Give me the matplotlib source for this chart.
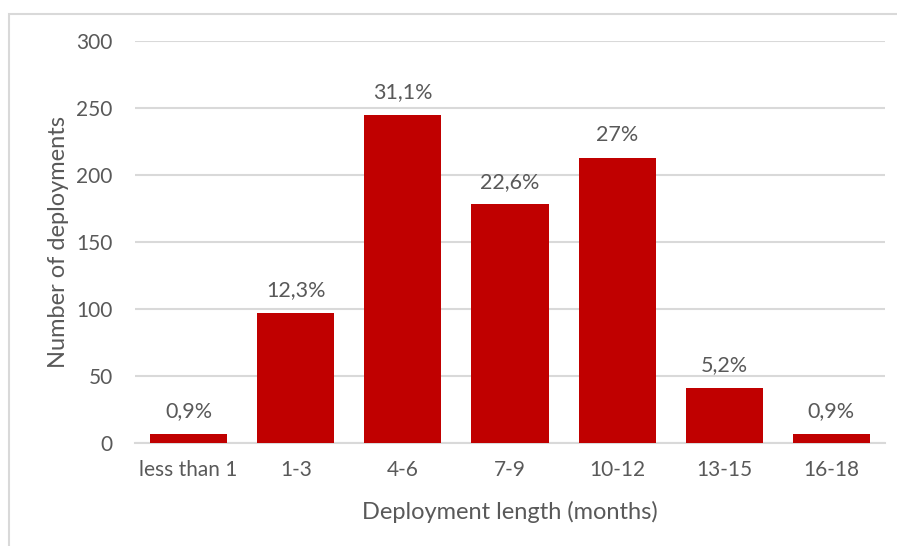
import matplotlib.pyplot as plt
from matplotlib.patches import Rectangle

categories = ['less than 1', '1-3', '4-6', '7-9', '10-12', '13-15', '16-18']
deployments = [7, 97, 245, 178, 213, 41, 7]
pct_labels = ['0,9%', '12,3%', '31,1%', '22,6%', '27%', '5,2%', '0,9%']

TEXT = '#595959'
GRID = '#d9d9d9'
RED = '#c00000'

plt.rcParams['font.family'] = ['Lato', 'DejaVu Sans']

fig = plt.figure(figsize=(8.97, 5.46), dpi=100)
ax = fig.add_axes([135 / 897, 1 - 443 / 546, 750 / 897, 402 / 546])

x = range(len(categories))
bars = ax.bar(x, deployments, width=0.72, color=RED, zorder=3)
for b, lab in zip(bars, pct_labels):
    ax.annotate(lab, (b.get_x() + b.get_width() / 2, b.get_height()),
                xytext=(0, 9), textcoords='offset points',
                ha='center', va='bottom', fontsize=15.5, color=TEXT)

ax.set_xlim(-0.5, len(categories) - 0.5)
ax.set_ylim(0, 300)
ax.set_yticks(range(0, 301, 50))
ax.set_xticks(list(x))
ax.set_xticklabels(categories)
ax.yaxis.grid(True, color=GRID, linewidth=1.5, zorder=0)
ax.tick_params(length=0, labelsize=15, colors=TEXT)
ax.tick_params(axis='y', pad=16)
ax.tick_params(axis='x', pad=12)
for s in ['top', 'right', 'left']:
    ax.spines[s].set_visible(False)
ax.spines['bottom'].set_color(GRID)
ax.spines['bottom'].set_linewidth(1.5)

ax.set_xlabel('Deployment length (months)', fontsize=17, color=TEXT, labelpad=15)
ax.set_ylabel('Number of deployments', fontsize=17, color=TEXT, labelpad=5)

fig.patches.append(Rectangle((9 / 897, -0.05), 1.0, 1 - 14 / 546 + 0.05,
                             transform=fig.transFigure, fill=False,
                             edgecolor=GRID, linewidth=1.5))

fig.savefig('out.png', dpi=100)
